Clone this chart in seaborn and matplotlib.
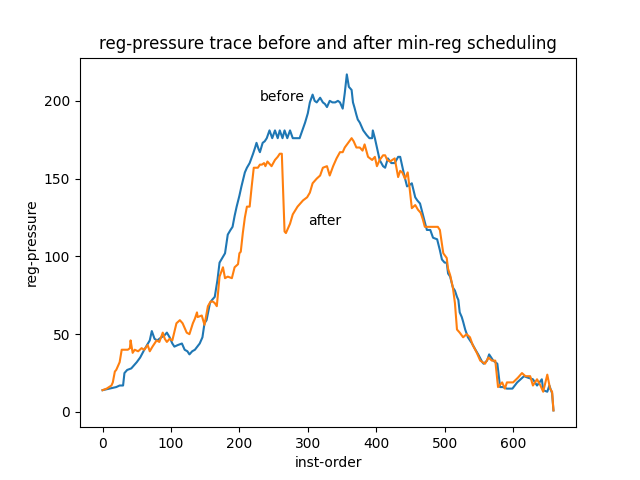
import matplotlib
matplotlib.use("Agg")
import matplotlib.pyplot as plt
import seaborn as sns

# before: reg-pressure at each instruction
before_x = [0, 10, 20, 25, 30, 32, 36, 42, 46, 50, 55, 61, 65, 69, 72, 76, 80,
            86, 90, 94, 98, 102, 105, 110, 116, 120, 124, 127, 131, 135, 142,
            146, 149, 152, 157, 160, 164, 168, 171, 175, 179, 183, 187, 190,
            193, 196, 200, 203, 208, 211, 215, 220, 223, 225, 228, 230, 234,
            237, 240, 244, 248, 252, 256, 259, 263, 266, 270, 274, 278, 281,
            285, 288, 292, 296, 300, 303, 307, 310, 313, 318, 322, 325, 328,
            332, 336, 340, 344, 347, 351, 354, 357, 360, 364, 366, 368, 371,
            373, 376, 381, 386, 390, 394, 395, 398, 401, 405, 410, 413, 417,
            422, 427, 432, 435, 438, 441, 445, 449, 452, 457, 460, 464, 468,
            471, 474, 479, 483, 489, 493, 496, 500, 503, 505, 508, 512, 515,
            518, 520, 522, 525, 527, 530, 534, 540, 545, 549, 555, 557, 562,
            565, 571, 577, 581, 585, 591, 599, 606, 611, 616, 622, 629, 635,
            642, 644, 650, 653, 657, 659]
before_y = [14, 15, 16, 17, 17, 25, 27, 28, 30, 32, 35, 40, 43, 46, 52, 47, 46,
            48, 49, 51, 48, 44, 42, 43, 44, 40, 39, 37, 39, 40, 44,
            48, 57, 59, 70, 72, 74, 85, 96, 99, 102, 114, 117, 119,
            126, 132, 139, 145, 154, 157, 160, 166, 170, 173, 169, 167, 173,
            174, 176, 181, 176, 181, 176, 181, 176, 181, 176, 181, 176, 176,
            176, 176, 181, 186, 192, 199, 204, 200, 199, 202, 199, 198, 196,
            200, 199, 199, 200, 199, 195, 205, 217, 209, 207, 199, 196, 191,
            188, 186, 181, 178, 176, 176, 181, 176, 170, 162, 158, 157, 163,
            160, 160, 164, 164, 158, 152, 145, 146, 147, 138, 136, 134, 127,
            122, 117, 117, 112, 111, 104, 98, 96, 96, 89, 87, 80, 78,
            74, 72, 64, 61, 58, 53, 48, 44, 40, 37, 32, 31, 33,
            37, 33, 31, 16, 16, 15, 15, 19, 21, 23, 22, 21, 17,
            21, 14, 13, 17, 12, 1]

# after min-reg scheduling
after_x = [0, 6, 13, 15, 18, 20, 22, 25, 28, 32, 37, 40, 41, 44, 47, 52, 57,
           61, 66, 69, 73, 79, 83, 88, 91, 94, 98, 102, 108, 113, 117, 120,
           123, 127, 132, 135, 138, 139, 145, 149, 154, 158, 161, 164, 167,
           171, 176, 179, 183, 189, 193, 198, 200, 202, 205, 208, 211, 215,
           218, 221, 227, 230, 233, 236, 238, 241, 247, 252, 256, 259, 262,
           264, 266, 268, 274, 278, 285, 289, 293, 299, 303, 307, 313, 318,
           322, 328, 332, 337, 342, 347, 351, 354, 359, 364, 367, 371, 376,
           380, 383, 388, 394, 398, 401, 405, 410, 413, 416, 420, 427, 432,
           435, 438, 442, 446, 449, 452, 457, 461, 465, 468, 471, 480, 490,
           493, 498, 503, 505, 508, 512, 515, 518, 522, 527, 532, 537, 541,
           547, 552, 559, 564, 569, 574, 578, 584, 588, 591, 600, 607, 613,
           618, 625, 629, 635, 640, 644, 650, 654, 657, 659]
after_y = [14, 15, 17, 19, 26, 27, 29, 32, 40, 40, 40, 41, 46, 38, 40, 39, 41,
           40, 43, 39, 42, 46, 45, 51, 47, 45, 47, 46, 57, 59, 57, 54,
           51, 50, 57, 60, 64, 61, 62, 56, 68, 71, 71, 70, 68,
           87, 93, 86, 87, 86, 93, 95, 102, 103, 115, 125, 132, 132,
           145, 157, 157, 159, 159, 160, 158, 161, 158, 162, 164, 166, 166,
           140, 116, 115, 121, 127, 132, 134, 136, 138, 141, 147, 150, 152,
           157, 158, 152, 158, 163, 167, 167, 170, 173, 176, 174, 170, 170,
           168, 172, 164, 162, 164, 158, 162, 165, 165, 162, 161, 163, 151,
           155, 154, 150, 154, 143, 131, 133, 130, 128, 124, 119, 119, 119,
           117, 102, 99, 92, 88, 80, 70, 53, 51, 48, 50, 48, 43,
           38, 33, 31, 35, 33, 33, 16, 19, 15, 19, 19, 22, 25,
           23, 23, 17, 21, 17, 13, 24, 15, 13, 1]

fig, ax = plt.subplots(figsize=(6.4, 4.8), dpi=100)
sns.lineplot(x=before_x, y=before_y, color="#1f77b4", ax=ax)
sns.lineplot(x=after_x, y=after_y, color="#ff7f0e", ax=ax)

ax.text(230, 200, "before")
ax.text(300, 120, "after")

ax.set_title("reg-pressure trace before and after min-reg scheduling")
ax.set_xlabel("inst-order")
ax.set_ylabel("reg-pressure")

plt.savefig("out.png")
